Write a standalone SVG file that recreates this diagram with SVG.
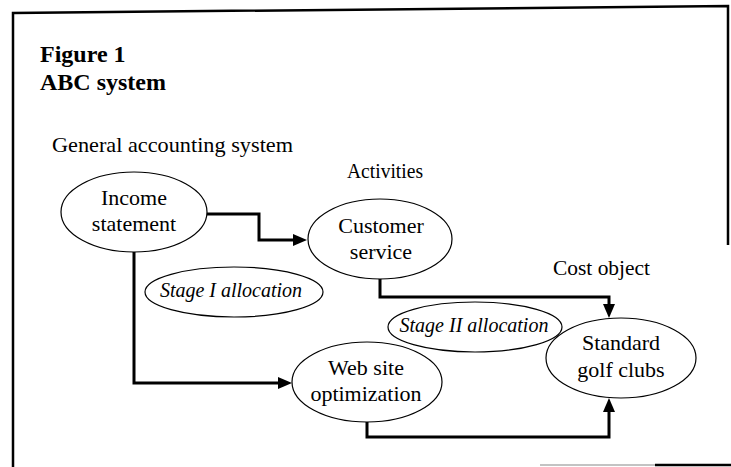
<svg xmlns="http://www.w3.org/2000/svg" width="731" height="467" viewBox="0 0 731 467">
<style>
.frame{stroke:#000;stroke-width:2.5;fill:none}
.node{fill:#fff;stroke:#000;stroke-width:1.2}
.lbl{font-family:"Liberation Serif","Times New Roman",serif;font-size:22px;fill:#000;text-anchor:middle}
.cap{font-family:"Liberation Serif","Times New Roman",serif;font-size:21px;fill:#000}
.title{font-family:"Liberation Serif","Times New Roman",serif;font-size:24px;font-weight:bold;fill:#000}
.stage{font-family:"Liberation Serif","Times New Roman",serif;font-size:20px;font-style:italic;fill:#000;text-anchor:middle}
.conn{stroke:#000;stroke-width:3;fill:none;stroke-linejoin:miter}
</style>
<defs>
<marker id="arr" viewBox="0 0 14 12" refX="6" refY="6" markerWidth="14" markerHeight="12" markerUnits="userSpaceOnUse" orient="auto">
<path d="M0,0 L14,6 L0,12 z" fill="#000"/>
</marker>
</defs>
<rect width="731" height="467" fill="#fff"/>
<g id="frame">
<path class="frame" d="M13,467 V13 L728,6 V245"/>
<path d="M540,465 H655" stroke="#888" stroke-width="1.2"/>
<path d="M655,465 H731" stroke="#000" stroke-width="2.5"/>
</g>
<g id="titles">
<text class="title" x="40" y="62">Figure 1</text>
<text class="title" x="40" y="90">ABC system</text>
<text class="cap" x="52" y="152" textLength="241" lengthAdjust="spacingAndGlyphs">General accounting system</text>
<text class="cap" x="347" y="178" textLength="76" lengthAdjust="spacingAndGlyphs">Activities</text>
<text class="cap" x="553" y="275" textLength="97" lengthAdjust="spacingAndGlyphs">Cost object</text>
</g>
<g id="connectors">
<path class="conn" d="M207,214 H259 V240 H299" marker-end="url(#arr)"/>
<path class="conn" d="M134,252 V383 H284" marker-end="url(#arr)"/>
<path class="conn" d="M380,278 V297 H609 V310" marker-end="url(#arr)"/>
<path class="conn" d="M367,422 V437 H609 V406" marker-end="url(#arr)"/>
</g>
<g id="income-statement">
<ellipse class="node" cx="134" cy="212" rx="73" ry="40"/>
<text class="lbl" x="134" y="205">Income</text>
<text class="lbl" x="134" y="231">statement</text>
</g>
<g id="customer-service">
<ellipse class="node" cx="380" cy="239" rx="72" ry="40"/>
<text class="lbl" x="381" y="233">Customer</text>
<text class="lbl" x="381" y="259">service</text>
</g>
<g id="stage-1">
<ellipse class="node" cx="234" cy="292" rx="89" ry="25"/>
<text class="stage" x="231" y="297">Stage I allocation</text>
</g>
<g id="web-site">
<ellipse class="node" cx="367" cy="382" rx="75" ry="40"/>
<text class="lbl" x="366" y="375">Web site</text>
<text class="lbl" x="366" y="401">optimization</text>
</g>
<g id="stage-2">
<ellipse class="node" cx="475" cy="327" rx="87" ry="25"/>
<text class="stage" x="474" y="332">Stage II allocation</text>
</g>
<g id="standard-golf-clubs">
<ellipse class="node" cx="621" cy="358" rx="75" ry="40"/>
<text class="lbl" x="621" y="350">Standard</text>
<text class="lbl" x="621" y="377">golf clubs</text>
</g>
</svg>
